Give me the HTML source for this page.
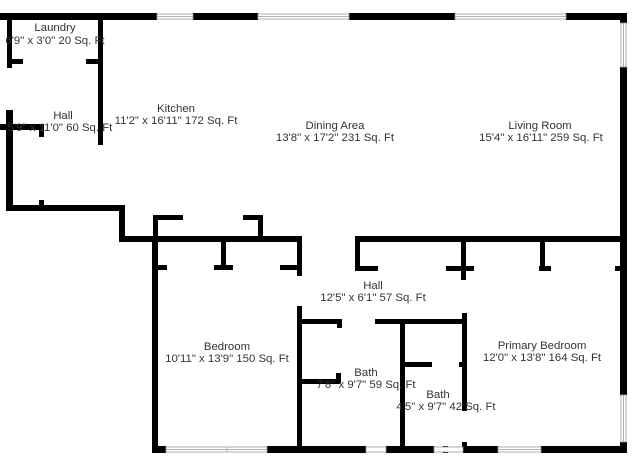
<!DOCTYPE html>
<html><head><style>
html,body{margin:0;padding:0;background:#fff;width:640px;height:472px;overflow:hidden}
svg{display:block}
text{font-family:"Liberation Sans",sans-serif;font-size:11.4px;fill:#333;text-anchor:middle}
</style></head><body>
<svg width="640" height="472" viewBox="0 0 640 472">
<g fill="#000">
<rect x="0" y="13" width="157" height="7"/>
<rect x="193" y="13" width="65" height="7"/>
<rect x="349" y="13" width="106" height="7"/>
<rect x="566" y="13" width="60" height="7"/>
<rect x="620" y="13" width="7" height="10"/>
<rect x="620" y="67" width="7" height="328"/>
<rect x="620" y="442" width="7" height="11"/>
<rect x="152" y="446" width="14" height="7"/>
<rect x="267" y="446" width="99" height="7"/>
<rect x="386" y="446" width="48" height="7"/>
<rect x="443" y="446" width="5" height="7"/>
<rect x="463" y="446" width="35" height="7"/>
<rect x="541" y="446" width="86" height="7"/>
<rect x="7" y="13" width="5" height="55"/>
<rect x="7" y="59" width="16" height="5"/>
<rect x="86" y="59" width="17" height="5"/>
<rect x="98" y="13" width="5" height="132"/>
<rect x="6" y="110" width="7" height="101"/>
<rect x="0" y="124" width="44" height="6"/>
<rect x="39" y="124" width="5" height="13"/>
<rect x="39" y="200" width="5" height="10"/>
<rect x="6" y="205" width="119" height="6"/>
<rect x="119" y="205" width="6" height="37"/>
<rect x="119" y="236" width="183" height="6"/>
<rect x="153" y="215" width="30" height="5"/>
<rect x="153" y="215" width="5" height="24"/>
<rect x="243" y="215" width="20" height="5"/>
<rect x="258" y="215" width="5" height="24"/>
<rect x="152" y="236" width="6" height="216"/>
<rect x="152" y="265" width="15" height="5"/>
<rect x="214" y="265" width="19" height="5"/>
<rect x="221" y="236" width="5" height="33"/>
<rect x="280" y="265" width="22" height="5"/>
<rect x="297" y="236" width="5" height="40"/>
<rect x="297" y="306" width="5" height="146"/>
<rect x="355" y="236" width="271" height="6"/>
<rect x="355" y="236" width="5" height="34"/>
<rect x="355" y="266" width="23" height="5"/>
<rect x="446" y="266" width="28" height="5"/>
<rect x="461" y="236" width="5" height="44"/>
<rect x="540" y="236" width="5" height="34"/>
<rect x="539" y="266" width="12" height="5"/>
<rect x="615" y="266" width="6" height="5"/>
<rect x="462" y="313" width="5" height="98"/>
<rect x="459" y="362" width="5" height="5"/>
<rect x="462" y="442" width="5" height="6"/>
<rect x="300" y="319" width="42" height="5"/>
<rect x="337" y="319" width="5" height="9"/>
<rect x="375" y="319" width="91" height="5"/>
<rect x="300" y="379" width="40" height="5"/>
<rect x="336" y="373" width="5" height="10"/>
<rect x="400" y="319" width="5" height="133"/>
<rect x="400" y="362" width="32" height="5"/>
</g>
<g fill="#fff" stroke="#999" stroke-width="0.8">
<rect x="157" y="14" width="36" height="5"/>
<rect x="258" y="14" width="91" height="5"/>
<rect x="455" y="14" width="111" height="5"/>
<rect x="621" y="23" width="5" height="44"/>
<rect x="621" y="395" width="5" height="47"/>
<rect x="166" y="447" width="101" height="5"/>
<rect x="366" y="447" width="20" height="5"/>
<rect x="434" y="447" width="29" height="5"/>
<rect x="498" y="447" width="43" height="5"/>
</g>
<g stroke="#999" stroke-width="0.8">
<line x1="157" y1="16.5" x2="193" y2="16.5"/>
<line x1="258" y1="16.5" x2="349" y2="16.5"/>
<line x1="455" y1="16.5" x2="566" y2="16.5"/>
<line x1="623.5" y1="23" x2="623.5" y2="67"/>
<line x1="623.5" y1="395" x2="623.5" y2="442"/>
<line x1="166" y1="449.5" x2="267" y2="449.5"/>
<line x1="498" y1="449.5" x2="541" y2="449.5"/>
<line x1="227" y1="447" x2="227" y2="452"/>
</g>
<text x="55" y="31">Laundry</text>
<text x="55" y="44">6'9" x 3'0" 20 Sq. Ft</text>
<text x="63" y="119">Hall</text>
<text x="60" y="131">5'9" x 11'0" 60 Sq. Ft</text>
<text x="176" y="112">Kitchen</text>
<text x="176" y="124">11'2" x 16'11" 172 Sq. Ft</text>
<text x="335" y="129">Dining Area</text>
<text x="335" y="141">13'8" x 17'2" 231 Sq. Ft</text>
<text x="540" y="129">Living Room</text>
<text x="541" y="141">15'4" x 16'11" 259 Sq. Ft</text>
<text x="373" y="289">Hall</text>
<text x="373" y="301">12'5" x 6'1" 57 Sq. Ft</text>
<text x="227" y="350">Bedroom</text>
<text x="227" y="362">10'11" x 13'9" 150 Sq. Ft</text>
<text x="366" y="376">Bath</text>
<text x="366" y="388">7'8" x 9'7" 59 Sq. Ft</text>
<text x="438" y="398">Bath</text>
<text x="446" y="410">4'5" x 9'7" 42 Sq. Ft</text>
<text x="542" y="349">Primary Bedroom</text>
<text x="542" y="361">12'0" x 13'8" 164 Sq. Ft</text>
</svg>
</body></html>
